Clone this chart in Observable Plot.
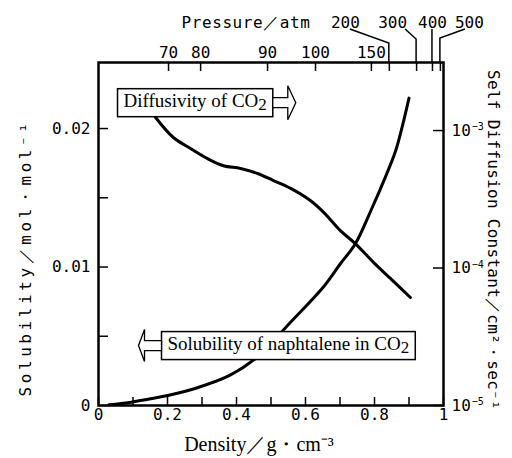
<!DOCTYPE html>
<html><head><meta charset="utf-8">
<script src="https://cdn.jsdelivr.net/npm/d3@7"></script>
<script src="https://cdn.jsdelivr.net/npm/@observablehq/plot@0.6"></script>
<style>body{margin:0;background:#fff} svg{display:block}</style>
</head><body><div id="chart"></div>
<script>
// ---- data ----
const solDensity = [0.03, 0.09, 0.14, 0.20, 0.28, 0.38, 0.46, 0.56, 0.65, 0.70, 0.745, 0.79, 0.83, 0.86, 0.88, 0.90];
const solubility = [0.00005, 0.00022, 0.00043, 0.00072, 0.00123, 0.00217, 0.0035, 0.0061, 0.0085, 0.0102, 0.0117, 0.0141, 0.0164, 0.0183, 0.0201, 0.0222];
const difDensity = [0.165, 0.217, 0.267, 0.316, 0.362, 0.412, 0.461, 0.507, 0.557, 0.614, 0.652, 0.701, 0.745, 0.797, 0.846, 0.904];
const diffusivity = [1.25e-3, 8.9e-4, 7.4e-4, 6.25e-4, 5.55e-4, 5.3e-4, 4.87e-4, 4.33e-4, 3.8e-4, 3.1e-4, 2.55e-4, 1.87e-4, 1.5e-4, 1.1e-4, 8.4e-5, 6.1e-5];
const densityTicks = [0, 0.1, 0.2, 0.3, 0.4, 0.5, 0.6, 0.7, 0.8, 0.9, 1];
const densityTickLabels = [0, 0.2, 0.4, 0.6, 0.8, 1];
const solTicks = [0, 0.005, 0.01, 0.015, 0.02];
const solTickLabels = [0, 0.01, 0.02];
const diffTicks = [1e-5, 1e-4, 1e-3];
const diffExponents = [-5, -4, -3];
const pressures = [70, 80, 90, 100, 150, 200, 300, 400, 500];
const pressureDensity = [0.203, 0.296, 0.490, 0.629, 0.791, 0.843, 0.922, 0.968, 0.991];
const lowerPressureIdx = [0, 1, 2, 3, 4];
const upperPressureIdx = [5, 6, 7, 8];
const annotations = [
  {text: "Diffusivity of CO2", x: 0.0725, y: 0.02202, arrow: "right"},
  {text: "Solubility of naphtalene in CO2", x: 0.20, y: 0.00448, arrow: "left"}
];
const yMax = 0.02477;
const diffDomain = [1e-5, Math.pow(10, -2.505)];

// ---- layout/style ----
const upperLabelDx = [-44, -24, 0, 29];
const leaderStartDx = [-39, -11, 0, 25];
const leaderElbowY = [43, 39, null, 38];
const tickFont = "DejaVu Sans Mono, monospace";
const serif = "Liberation Serif, Times New Roman, serif";
const noLabel = () => "";

const diffToY = d3.scaleLog().domain(diffDomain).range([0, yMax]);
const diffLabel = new Map(diffTicks.map((t, i) => [diffToY(t), "10^" + diffExponents[i]]));
const pressureOf = new Map(pressureDensity.map((d, i) => [d, String(pressures[i])]));

const solData = solDensity.map((d, i) => ({d, s: solubility[i]}));
const difData = difDensity.map((d, i) => ({d, D: diffusivity[i]}));
const upperData = upperPressureIdx.map((i, k) => ({x: pressureDensity[i], label: String(pressures[i]), dx: upperLabelDx[k]}));

const svg = Plot.plot({
  width: 512, height: 458,
  marginLeft: 98, marginRight: 69, marginTop: 62, marginBottom: 53,
  x: {domain: [0, 1]},
  y: {domain: [0, yMax]},
  style: {fontFamily: tickFont, fontSize: "16px", color: "#000", background: "#fff"},
  marks: [
    // bottom
    Plot.axisX(densityTicks, {anchor: "bottom", tickSize: -8, tickFormat: noLabel, strokeWidth: 1.5, label: null}),
    Plot.axisX(densityTickLabels, {anchor: "bottom", tickSize: 0, tickPadding: 3, tickFormat: d => String(d), label: null, fontSize: 16}),
    // left
    Plot.axisY(solTicks, {anchor: "left", tickSize: -10, tickFormat: noLabel, strokeWidth: 1.5, label: null}),
    Plot.axisY(solTickLabels, {anchor: "left", tickSize: 0, tickPadding: 8, tickFormat: d => String(d), label: null, fontSize: 16}),
    // right (log diffusivity)
    Plot.axisY(diffTicks.map(diffToY), {anchor: "right", tickSize: -11, tickFormat: noLabel, strokeWidth: 1.5, label: null}),
    Plot.axisY(diffTicks.map(diffToY), {anchor: "right", tickSize: 0, tickPadding: 8, tickFormat: d => diffLabel.get(d), label: null, fontSize: 16}),
    // top (pressure)
    Plot.axisX(pressureDensity, {anchor: "top", tickSize: -8, tickFormat: noLabel, strokeWidth: 1.5, label: null}),
    Plot.axisX(lowerPressureIdx.map(i => pressureDensity[i]), {anchor: "top", tickSize: 0, tickPadding: 5, tickFormat: d => pressureOf.get(d), label: null, fontSize: 16}),
    Plot.text(upperData, {x: "x", text: "label", frameAnchor: "top", lineAnchor: "middle", textAnchor: "middle", dy: -40, fontSize: 16}),
    Plot.line(solData, {x: "d", y: "s", stroke: "#000", strokeWidth: 3, curve: "catmull-rom"}),
    Plot.line(difData, {x: "d", y: d => diffToY(d.D), stroke: "#000", strokeWidth: 3, curve: "catmull-rom"}),
    Plot.frame({stroke: "#000", strokeWidth: 2.5}),
    Plot.text(annotations, {x: "x", y: "y", text: "text", textAnchor: "start", fontFamily: serif, fontSize: 19}),
    // axis titles
    Plot.text(["Solubility／mol・mol⁻¹"], {frameAnchor: "left", textAnchor: "middle", lineAnchor: "middle", dx: -73, dy: 24, rotate: -90, fontSize: 16}),
    Plot.text(["Self Diffusion Constant／cm²・sec⁻¹"], {frameAnchor: "right", textAnchor: "middle", lineAnchor: "middle", dx: 50, dy: 6, rotate: 90, fontSize: 16}),
    Plot.text(["Pressure／atm"], {frameAnchor: "top", textAnchor: "middle", lineAnchor: "middle", dx: -25, dy: -40, fontSize: 16}),
    Plot.text(["Density／g・cm⁻³"], {frameAnchor: "bottom", textAnchor: "middle", lineAnchor: "middle", dx: -12, dy: 39, fontFamily: serif, fontSize: 20})
  ]
});
document.getElementById("chart").append(svg);

const sx = svg.scale("x");
const root = d3.select(svg);

// right tick labels: 10 with a small raised exponent
root.selectAll("text").filter(function() { return /^10\^-\d$/.test(this.textContent); }).each(function() {
  const e = this.textContent.split("^")[1];
  this.textContent = "10";
  d3.select(this).append("tspan").attr("font-size", "10").attr("dy", "-0.55em").attr("dx", "1").text("−" + e.slice(1));
});

// upper pressure labels: shift sideways
root.selectAll("text").filter(function() {
  return upperData.some(u => u.label === this.textContent);
}).each(function() {
  const u = upperData.find(u => u.label === this.textContent);
  const tr = this.getAttribute("transform") || "";
  const m = tr.match(/translate\(\s*([-\d.e]+)[ ,]\s*([-\d.e]+)\s*\)/);
  if (m) this.setAttribute("transform", `translate(${+m[1] + u.dx},${m[2]})`);
  else this.setAttribute("x", (+this.getAttribute("x") || 0) + u.dx);
});
// leader lines
const lg = root.append("g").attr("fill", "none").attr("stroke", "#000").attr("stroke-width", 1.5);
upperPressureIdx.forEach((i, k) => {
  const tx = sx.apply(pressureDensity[i]);
  const pts = [[tx + leaderStartDx[k], 29]];
  if (leaderElbowY[k] != null) pts.push([tx, leaderElbowY[k]]);
  pts.push([tx, 62]);
  lg.append("path").attr("d", d3.line()(pts));
});

// letter spacing for the axis titles
const titleTargets = new Map([["Solubility／mol・mol⁻¹", 277], ["Self Diffusion Constant／cm²・sec⁻¹", 340], ["Pressure／atm", 129]]);
root.selectAll("text").each(function() {
  const target = titleTargets.get(this.textContent);
  if (!target) return;
  const len = this.getComputedTextLength();
  const n = [...this.textContent].length;
  this.setAttribute("letter-spacing", ((target - len) / n).toFixed(2));
});

// annotation boxes and hollow arrows
root.selectAll("text").filter(function() { return annotations.some(a => a.text === this.textContent); }).each(function() {
  const a = annotations.find(a => a.text === this.textContent);
  this.textContent = a.text.slice(0, -1);
  d3.select(this).append("tspan").attr("dy", "0.18em").attr("font-size", "17").text("2");
  const bb = this.getBBox();
  const x0 = bb.x - 6, x1 = bb.x + bb.width + 6, cy = bb.y + bb.height / 2 + 1;
  const y0 = cy - 14, y1 = cy + 14;
  const p = this.parentNode;
  const tr = this.getAttribute("transform");
  const rect = document.createElementNS("http://www.w3.org/2000/svg", "rect");
  rect.setAttribute("x", x0); rect.setAttribute("y", y0);
  rect.setAttribute("width", x1 - x0); rect.setAttribute("height", y1 - y0);
  rect.setAttribute("fill", "#fff"); rect.setAttribute("stroke", "#000"); rect.setAttribute("stroke-width", 1.5);
  if (tr) rect.setAttribute("transform", tr);
  p.insertBefore(rect, this);
  const arrow = document.createElementNS("http://www.w3.org/2000/svg", "path");
  let d;
  if (a.arrow === "right") {
    const bx = x1;
    d = `M${bx},${cy-5}H${bx+15}V${cy-17}L${bx+23},${cy}L${bx+15},${cy+17}V${cy+5}H${bx}Z`;
  } else {
    const bx = x0;
    d = `M${bx},${cy-5}H${bx-17}V${cy-16}L${bx-23},${cy}L${bx-17},${cy+16}V${cy+5}H${bx}Z`;
  }
  arrow.setAttribute("d", d);
  arrow.setAttribute("fill", "#fff"); arrow.setAttribute("stroke", "#000"); arrow.setAttribute("stroke-width", 1.3);
  if (tr) arrow.setAttribute("transform", tr);
  p.insertBefore(arrow, this);
});
</script>
</body></html>
